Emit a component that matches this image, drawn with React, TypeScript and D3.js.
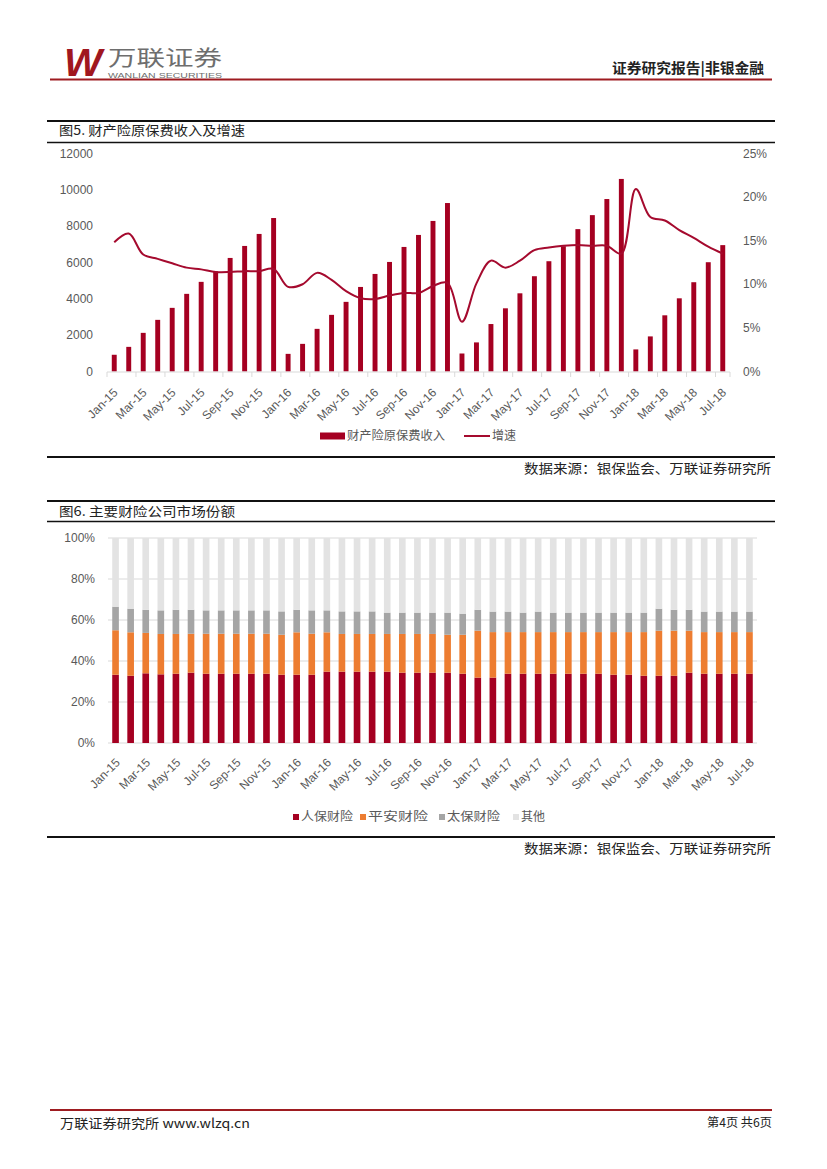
import React from "react";
import * as d3 from "d3";

const months = [
  "Jan-15", "Feb-15", "Mar-15", "Apr-15", "May-15", "Jun-15", "Jul-15", "Aug-15", "Sep-15", "Oct-15", "Nov-15", "Dec-15",
  "Jan-16", "Feb-16", "Mar-16", "Apr-16", "May-16", "Jun-16", "Jul-16", "Aug-16", "Sep-16", "Oct-16", "Nov-16", "Dec-16",
  "Jan-17", "Feb-17", "Mar-17", "Apr-17", "May-17", "Jun-17", "Jul-17", "Aug-17", "Sep-17", "Oct-17", "Nov-17", "Dec-17",
  "Jan-18", "Feb-18", "Mar-18", "Apr-18", "May-18", "Jun-18", "Jul-18",
];

// 财产险原保费收入 (亿元)
const premium = [
  920, 1355, 2125, 2840, 3500, 4270, 4930, 5510, 6245, 6905, 7565, 8440,
  970, 1520, 2345, 3115, 3830, 4650, 5365, 6025, 6850, 7510, 8280, 9265,
  990, 1600, 2610, 3475, 4300, 5240, 6065, 6890, 7830, 8600, 9485, 10590,
  1215, 1930, 3090, 4025, 4910, 6010, 6950,
];

// 增速 (%)
const growth = [
  14.8, 15.8, 13.4, 12.9, 12.4, 11.9, 11.7, 11.4, 11.4, 11.5, 11.5, 11.75,
  9.7, 10.0, 11.3, 10.5, 9.2, 8.4, 8.3, 8.7, 9.0, 9.0, 9.8, 10.15,
  5.7, 10.1, 12.7, 11.9, 12.7, 13.9, 14.2, 14.4, 14.5, 14.4, 14.4, 13.5,
  20.9, 17.7, 17.3, 16.2, 15.3, 14.3, 13.5,
];

// 市场份额 (%)
const renbao = [
  33.3, 32.8, 34.0, 33.5, 33.8, 34.3, 33.8, 33.8, 33.8, 33.8, 33.8, 33.3,
  33.3, 33.3, 34.8, 34.8, 34.8, 34.8, 34.8, 34.3, 34.3, 34.3, 34.3, 33.8,
  31.9, 31.9, 33.8, 33.8, 33.8, 33.8, 33.8, 33.8, 33.8, 33.3, 33.3, 32.8,
  32.8, 32.8, 34.3, 33.8, 33.8, 33.8, 33.8,
];
const pingan = [
  21.7, 21.2, 19.7, 19.7, 19.4, 19.0, 19.5, 19.5, 19.5, 19.5, 19.5, 19.5,
  20.7, 20.0, 19.2, 18.4, 18.4, 18.4, 18.4, 18.9, 18.9, 18.9, 18.5, 19.0,
  22.9, 22.2, 20.3, 20.3, 20.3, 20.3, 20.3, 20.3, 20.3, 20.8, 20.8, 21.3,
  22.0, 22.0, 20.5, 20.3, 20.3, 20.3, 20.3,
];
const taibao = [
  11.5, 11.5, 11.3, 11.5, 11.8, 11.7, 11.4, 11.4, 11.4, 11.4, 11.4, 11.4,
  11.0, 11.4, 10.7, 11.0, 11.0, 11.0, 10.4, 10.4, 10.4, 10.4, 10.8, 10.3,
  10.2, 10.0, 10.0, 9.5, 10.0, 9.5, 9.5, 9.5, 9.5, 9.5, 9.5, 9.5,
  10.7, 10.2, 10.2, 10.0, 10.0, 10.0, 10.0,
];
const other = [
  33.5, 34.5, 35.0, 35.3, 35.0, 35.0, 35.3, 35.3, 35.3, 35.3, 35.3, 35.8,
  35.0, 35.3, 35.3, 35.8, 35.8, 35.8, 36.4, 36.4, 36.4, 36.4, 36.4, 36.9,
  35.0, 35.9, 35.9, 36.4, 35.9, 36.4, 36.4, 36.4, 36.4, 36.4, 36.4, 36.4,
  34.5, 35.0, 35.0, 35.9, 35.9, 35.9, 35.9,
];

const leftTicks = [0, 2000, 4000, 6000, 8000, 10000, 12000];
const rightTicks = [0, 5, 10, 15, 20, 25];
const shareTicks = [0, 20, 40, 60, 80, 100];
const seriesNames = ["人保财险", "平安财险", "太保财险", "其他"];
const seriesColors = ["#A50021", "#ED7D31", "#A5A5A5", "#E3E3E3"];

const RED = "#A50021";
const AXIS_TXT = "#595959";
const SANS = "'Liberation Sans', Arial, sans-serif";
const CJK = "'Noto Sans CJK SC', 'Noto Sans', sans-serif";

export default function App() {
  // ---- Chart 1 scales
  const x1 = d3.scaleBand<string>().domain(months).range([107, 730]).paddingInner(0.66).paddingOuter(0.33);
  const yL = d3.scaleLinear().domain([0, 12000]).range([371.5, 153.3]);
  const yR = d3.scaleLinear().domain([0, 25]).range([371.5, 153.3]);
  const cx1 = (m: string) => (x1(m) as number) + x1.bandwidth() / 2;
  const line = d3
    .line<number>()
    .x((_, i) => cx1(months[i]))
    .y((d) => yR(d))
    .curve(d3.curveCatmullRom.alpha(0.5));
  const step1 = x1.step();
  const gap1 = (step1 - x1.bandwidth()) / 2;

  // ---- Chart 2 scales
  const x2 = d3.scaleBand<string>().domain(months).range([108, 757]).paddingInner(0.56).paddingOuter(0.28);
  const y2 = d3.scaleLinear().domain([0, 100]).range([743, 538]);
  const table = months.map((m, i) => ({ m, s0: renbao[i], s1: pingan[i], s2: taibao[i], s3: other[i] }));
  const stack = d3.stack<any>().keys(["s0", "s1", "s2", "s3"]);
  const stacked = stack(table);
  const cx2 = (m: string) => (x2(m) as number) + x2.bandwidth() / 2;

  const labelIdx = months.map((_, i) => i).filter((i) => i % 2 === 0);

  return (
    <svg
      width={827}
      height={1169}
      viewBox="0 0 827 1169"
      style={{ position: "absolute", left: 0, top: 0, background: "#fff" }}
    >
      <rect x={0} y={0} width={827} height={1169} fill="#fff" />
      {/* Header */}
      <text x={64} y={76} fontFamily={SANS} fontWeight={900} fontStyle="italic" fontSize={38} fill="#A0171F" textLength={38} lengthAdjust="spacingAndGlyphs">
        W
      </text>
      <text x={108} y={65} fontFamily={CJK} fontSize={21} fill="#6E6E6E" textLength={114} lengthAdjust="spacingAndGlyphs">
        万联证券
      </text>
      <text x={108} y={77.5} fontFamily={SANS} fontSize={8} fill="#6E6E6E" textLength={114} lengthAdjust="spacingAndGlyphs">
        WANLIAN SECURITIES
      </text>
      <text x={764} y={73} textAnchor="end" fontFamily={CJK} fontWeight={700} fontSize={14} fill="#222" textLength={152} lengthAdjust="spacingAndGlyphs">
        证券研究报告|非银金融
      </text>
      <line x1={50} x2={772} y1={79.5} y2={79.5} stroke="#9E1B20" strokeWidth={2} />

      {/* Chart 1 frame */}
      <line x1={47} x2={775} y1={121} y2={121} stroke="#111" strokeWidth={2} />
      <text x={59} y={135} fontFamily={CJK} fontSize={13} fill="#222" textLength={186} lengthAdjust="spacingAndGlyphs">
        图5. 财产险原保费收入及增速
      </text>
      <line x1={47} x2={775} y1={142.5} y2={142.5} stroke="#111" strokeWidth={1.5} />

      {/* left axis labels */}
      {leftTicks.map((t) => (
        <text key={"l" + t} x={93} y={yL(t)} dy="0.35em" textAnchor="end" fontFamily={SANS} fontSize={12} fill={AXIS_TXT}>
          {t}
        </text>
      ))}
      {rightTicks.map((t) => (
        <text key={"r" + t} x={743} y={yR(t)} dy="0.35em" textAnchor="start" fontFamily={SANS} fontSize={12} fill={AXIS_TXT}>
          {t + "%"}
        </text>
      ))}
      {/* bars */}
      {premium.map((v, i) => (
        <rect key={"b" + i} x={x1(months[i])} y={yL(v)} width={x1.bandwidth()} height={yL(0) - yL(v)} fill={RED} />
      ))}
      {/* axis baseline */}
      <line x1={107} x2={730} y1={372} y2={372} stroke="#D9D9D9" strokeWidth={1} />
      {labelIdx.map((i) => {
        const tx = (x1(months[i]) as number) - gap1;
        return <line key={"t" + i} x1={tx} x2={tx} y1={372} y2={377} stroke="#D9D9D9" strokeWidth={1} />;
      })}
      <line x1={730} x2={730} y1={372} y2={377} stroke="#D9D9D9" strokeWidth={1} />
      {/* growth line */}
      <path d={line(growth) || ""} fill="none" stroke="#A50A2E" strokeWidth={2} />
      {/* x labels */}
      {labelIdx.map((i) => {
        const cx = cx1(months[i]);
        return (
          <text
            key={"xl" + i}
            transform={`translate(${cx - 2},${387}) rotate(-45)`}
            textAnchor="end"
            dominantBaseline="hanging"
            fontFamily={SANS}
            fontSize={12}
            fill={AXIS_TXT}
          >
            {months[i]}
          </text>
        );
      })}
      {/* legend 1 */}
      <rect x={320} y={432.5} width={25} height={7} fill={RED} />
      <text x={347} y={436} dy="0.35em" fontFamily={CJK} fontSize={12} fill={AXIS_TXT} textLength={98} lengthAdjust="spacingAndGlyphs">
        财产险原保费收入
      </text>
      <line x1={464} x2={490} y1={436} y2={436} stroke="#A50A2E" strokeWidth={2} />
      <text x={492} y={436} dy="0.35em" fontFamily={CJK} fontSize={12} fill={AXIS_TXT}>
        增速
      </text>
      <line x1={47} x2={775} y1={457} y2={457} stroke="#111" strokeWidth={2} />
      <text x={771} y={468} dy="0.35em" textAnchor="end" fontFamily={CJK} fontSize={13} fill="#222" textLength={247} lengthAdjust="spacingAndGlyphs">
        数据来源：银保监会、万联证券研究所
      </text>

      {/* Chart 2 frame */}
      <line x1={47} x2={775} y1={501} y2={501} stroke="#111" strokeWidth={2} />
      <text x={59} y={516} fontFamily={CJK} fontSize={13} fill="#222" textLength={176} lengthAdjust="spacingAndGlyphs">
        图6. 主要财险公司市场份额
      </text>
      <line x1={47} x2={775} y1={521.5} y2={521.5} stroke="#111" strokeWidth={1.5} />

      {/* gridlines */}
      {shareTicks.map((t) => (
        <line key={"g" + t} x1={108} x2={757} y1={y2(t)} y2={y2(t)} stroke="#D9D9D9" strokeWidth={1} />
      ))}
      {shareTicks.map((t) => (
        <text key={"yl" + t} x={95} y={y2(t)} dy="0.35em" textAnchor="end" fontFamily={SANS} fontSize={12} fill={AXIS_TXT}>
          {t + "%"}
        </text>
      ))}
      {stacked.map((s, si) => (
        <g key={"s" + si} fill={seriesColors[si]}>
          {s.map((d, i) => (
            <rect key={i} x={x2(months[i])} y={y2(d[1])} width={x2.bandwidth()} height={y2(d[0]) - y2(d[1])} />
          ))}
        </g>
      ))}
      {labelIdx.map((i) => {
        const cx = cx2(months[i]);
        return (
          <text
            key={"xl2" + i}
            transform={`translate(${cx - 1},${757}) rotate(-45)`}
            textAnchor="end"
            dominantBaseline="hanging"
            fontFamily={SANS}
            fontSize={12}
            fill={AXIS_TXT}
          >
            {months[i]}
          </text>
        );
      })}
      {/* legend 2 */}
      {seriesNames.map((n, i) => {
        const xs = [293, 360, 439, 513][i];
        const lens = [52, 60, 53, 24][i];
        return (
          <g key={"lg" + i}>
            <rect x={xs} y={814} width={6} height={6} fill={seriesColors[i]} />
            <text x={xs + 8} y={817} dy="0.35em" fontFamily={CJK} fontSize={12} fill={AXIS_TXT} textLength={lens} lengthAdjust="spacingAndGlyphs">
              {n}
            </text>
          </g>
        );
      })}
      <line x1={47} x2={775} y1={837} y2={837} stroke="#111" strokeWidth={2} />
      <text x={771} y={848} dy="0.35em" textAnchor="end" fontFamily={CJK} fontSize={13} fill="#222" textLength={247} lengthAdjust="spacingAndGlyphs">
        数据来源：银保监会、万联证券研究所
      </text>

      {/* Footer */}
      <line x1={50} x2={772} y1={1110} y2={1110} stroke="#9E1B20" strokeWidth={2} />
      <text x={60} y={1123} dy="0.35em" fontFamily={CJK} fontSize={13} fill="#222" textLength={190} lengthAdjust="spacingAndGlyphs">
        万联证券研究所 www.wlzq.cn
      </text>
      <text x={772} y={1123} dy="0.35em" textAnchor="end" fontFamily={CJK} fontSize={12} fill="#222" textLength={65} lengthAdjust="spacingAndGlyphs">
        第4页 共6页
      </text>
    </svg>
  );
}
